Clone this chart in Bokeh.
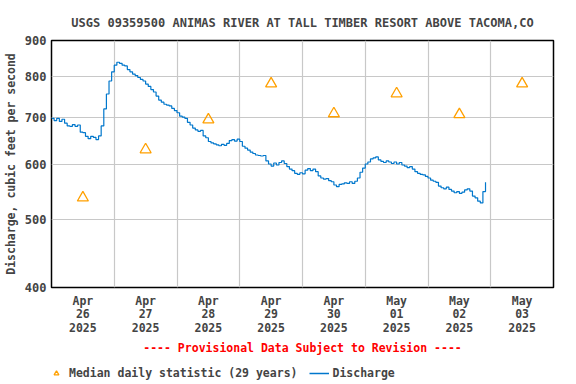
import numpy as np
from bokeh.plotting import figure
from bokeh.layouts import column
from bokeh.models import FixedTicker, Range1d, Legend, LegendItem
from bokeh.embed import file_html
from bokeh.resources import INLINE

# Hourly discharge (cfs), starting 2025-04-26 00:00
discharge = [
    697, 692, 697, 690, 695,
    686, 680, 679, 683, 679, 682,
    666, 665,
    657, 652, 657, 655, 650, 658,
    680, 719, 755, 788, 812, 830, 838,
    835, 830, 828, 818, 812, 806, 802,
    797, 792, 788, 780, 774, 766, 760, 750, 740,
    735, 730, 728, 726, 720, 715, 710,
    702, 700, 697, 688, 682,
    675, 671, 668, 670, 658, 654,
    646, 643, 641, 639, 637, 640, 638, 642,
    648, 650, 647, 651, 646, 636, 632, 628,
    624, 621, 618, 617, 616, 617,
    606, 600, 596, 602, 598, 603, 606, 601, 595,
    590, 587, 582, 580, 583, 581,
    588, 591, 587, 590, 585, 577, 573, 571, 572,
    568, 566, 560, 557, 561, 562, 564, 563,
    566, 563, 567, 573, 584, 592, 600, 604,
    610, 612, 614, 608, 605, 603, 606,
    604, 601, 604, 600, 603, 598, 596, 593, 595, 590,
    585, 582, 580, 579, 576, 573, 569, 567, 565,
    558, 555, 553, 556, 552, 549, 546, 548, 545, 547,
    551, 553, 549, 540, 537, 531, 528, 548, 565,
]
hours = list(range(len(discharge)))

# Median daily statistic, one per day (plotted at noon)
median_values = [537, 629, 694, 781, 708, 756, 706, 781]
median_hours = [12 + 24 * i for i in range(len(median_values))]

day_labels = ["Apr\n26\n2025", "Apr\n27\n2025", "Apr\n28\n2025", "Apr\n29\n2025",
              "Apr\n30\n2025", "May\n01\n2025", "May\n02\n2025", "May\n03\n2025"]
y_ticks = [400, 500, 600, 700, 800, 900]

FONT = "DejaVu Sans Mono"
BLUE = "#0077cc"
ORANGE = "#ffa000"

p = figure(frame_width=502, frame_height=247, output_backend="svg", toolbar_location=None,
           y_axis_type="log", x_range=Range1d(0, 192), y_range=Range1d(400, 900),
           min_border_left=43, min_border_top=40, min_border_right=15, min_border_bottom=80,
           title="USGS 09359500 ANIMAS RIVER AT TALL TIMBER RESORT ABOVE TACOMA,CO")

p.title.text_font = FONT
p.title.text_font_style = "bold"
p.title.text_font_size = "12px"
p.title.align = "center"
p.title.standoff = 21

p.outline_line_color = "black"
p.outline_line_width = 1.5

line = p.step(hours, discharge, mode="after", line_color=BLUE, line_width=1.2)
med = p.scatter(median_hours, median_values, marker="triangle", size=11,
                fill_alpha=0, line_color=ORANGE, line_width=1.3)

# axes
xa = p.xaxis[0]
xa.ticker = FixedTicker(ticks=median_hours)
xa.major_label_overrides = {h: lab for h, lab in zip(median_hours, day_labels)}
xa.major_tick_out = 0
xa.major_tick_in = 0
xa.minor_tick_out = 0
xa.minor_tick_in = 0
xa.axis_line_color = None
xa.major_label_text_font = FONT
xa.major_label_text_font_style = "bold"
xa.major_label_text_font_size = "11.5px"
xa.major_label_text_line_height = 0.98
xa.major_label_standoff = 6
xa.axis_label = "---- Provisional Data Subject to Revision ----"
xa.axis_label_text_font = FONT
xa.axis_label_text_font_style = "bold"
xa.axis_label_text_font_size = "11.5px"
xa.axis_label_text_color = "#ff0000"
xa.axis_label_standoff = 3

ya = p.yaxis[0]
ya.ticker = FixedTicker(ticks=y_ticks)
ya.major_label_overrides = {v: str(v) for v in y_ticks}
ya.major_tick_out = 0
ya.major_tick_in = 0
ya.minor_tick_out = 0
ya.minor_tick_in = 0
ya.axis_line_color = None
ya.major_label_text_font = FONT
ya.major_label_text_font_style = "bold"
ya.major_label_text_font_size = "12px"
ya.major_label_standoff = 5
ya.axis_label = "Discharge, cubic feet per second"
ya.axis_label_text_font = FONT
ya.axis_label_text_font_style = "bold"
ya.axis_label_text_font_size = "11.5px"
ya.axis_label_standoff = 4

p.xgrid.ticker = FixedTicker(ticks=[24 * i for i in range(1, 8)])
p.ygrid.ticker = FixedTicker(ticks=y_ticks)
for g in (p.xgrid, p.ygrid):
    g.grid_line_color = "#c8c8c8"
    g.grid_line_width = 1.2

# legend strip below the chart (glyph points lie outside its visible range)
p2 = figure(width=560, height=13, output_backend="svg", toolbar_location=None,
            x_axis_location=None, y_axis_location=None,
            x_range=Range1d(0, 1), y_range=Range1d(0, 1),
            min_border=0, outline_line_color=None)
p2.grid.visible = False
leg_tri = p2.scatter([5], [5], marker="triangle", size=11, fill_alpha=0,
                     line_color=ORANGE, line_width=1.3)
leg_line = p2.line([5, 6], [5, 5], line_color=BLUE, line_width=1.5)
legend = Legend(items=[LegendItem(label="Median daily statistic (29 years)", renderers=[leg_tri]),
                       LegendItem(label="Discharge", renderers=[leg_line])],
                orientation="horizontal", location=(-5, 0))
legend.label_text_font = FONT
legend.label_text_font_style = "bold"
legend.label_text_font_size = "11.5px"
legend.background_fill_alpha = 0
legend.border_line_alpha = 0
legend.glyph_width = 20
legend.glyph_height = 12
legend.label_height = 12
legend.spacing = 12
legend.label_standoff = 3
legend.padding = 0
legend.margin = 0
p2.add_layout(legend)

layout = column(p, p2, spacing=0)
open("out.html", "w").write(file_html(layout, INLINE))
